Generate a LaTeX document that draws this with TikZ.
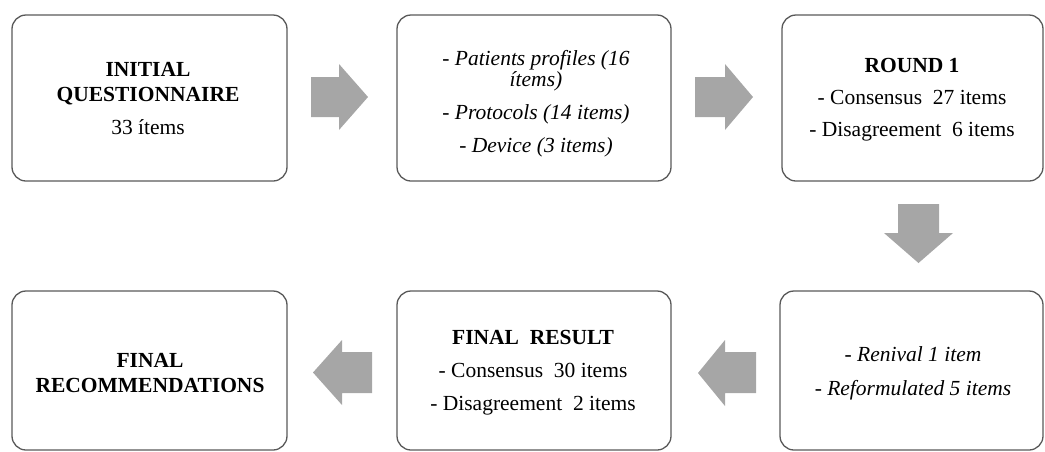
\documentclass[tikz,border=0pt]{standalone}
\usepackage{fontspec}
\setmainfont{Liberation Serif}
\begin{document}
\begin{tikzpicture}[x=1pt,y=-1pt,
  stagebox/.style={draw=black!65,line width=1.3pt,rounded corners=14pt,inner sep=0pt},
  stagetext/.style={align=center,font=\fontsize{21.5}{25}\selectfont,inner sep=0pt},
  blockarrow/.style={fill=black!35,draw=none}]
\useasboundingbox (0,0) rectangle (1045,451);
% boxes
\node[stagebox,minimum width=275pt,minimum height=166pt] (b1) at (149.5,98) {};
\node[stagebox,minimum width=274pt,minimum height=166pt] (b2) at (534,98) {};
\node[stagebox,minimum width=261pt,minimum height=166pt] (b3) at (912.5,98) {};
\node[stagebox,minimum width=275pt,minimum height=159pt] (b4) at (149.5,370.5) {};
\node[stagebox,minimum width=274pt,minimum height=159pt] (b5) at (534,370.5) {};
\node[stagebox,minimum width=263pt,minimum height=159pt] (b6) at (911.5,370.5) {};
% texts
\node[stagetext] (t1) at (148,99) {\textbf{INITIAL}\\\textbf{QUESTIONNAIRE}\\[8pt]33 ítems};
\node[stagetext] (t2) at (536,104) {\itshape - Patients profiles (16\\[-4pt]\itshape ítems)\\[8pt]\itshape - Protocols (14 items)\\[8pt]\itshape - Device (3 items)};
\node[stagetext] (t3) at (912,100) {\textbf{ROUND 1}\\[7pt]- Consensus\ \ 27 items\\[7pt]- Disagreement\ \ 6 items};
\node[stagetext] (t4) at (150,373) {\textbf{FINAL}\\\textbf{RECOMMENDATIONS}};
\node[stagetext] (t5) at (533,373) {\textbf{FINAL\ \ RESULT}\\[8pt]- Consensus\ \ 30 items\\[8pt]- Disagreement\ \ 2 items};
\node[stagetext] (t6) at (913,373) {\itshape - Renival 1 item\\[9pt]\itshape - Reformulated 5 items};
% block arrows
\fill[blockarrow] (311,77) -- (339,77) -- (339,64) -- (368,97) -- (339,130) -- (339,117) -- (311,117) -- cycle;
\fill[blockarrow] (695,77) -- (725,77) -- (725,64) -- (753,97) -- (725,130) -- (725,117) -- (695,117) -- cycle;
\fill[blockarrow] (898,204) -- (939,204) -- (939,233) -- (953,233) -- (918.5,263) -- (884,233) -- (898,233) -- cycle;
\fill[blockarrow] (372,352) -- (342,352) -- (342,340) -- (313,372.5) -- (342,405) -- (342,393) -- (372,393) -- cycle;
\fill[blockarrow] (756,352) -- (725,352) -- (725,340) -- (698,373) -- (725,406) -- (725,393) -- (756,393) -- cycle;
\end{tikzpicture}
\end{document}
